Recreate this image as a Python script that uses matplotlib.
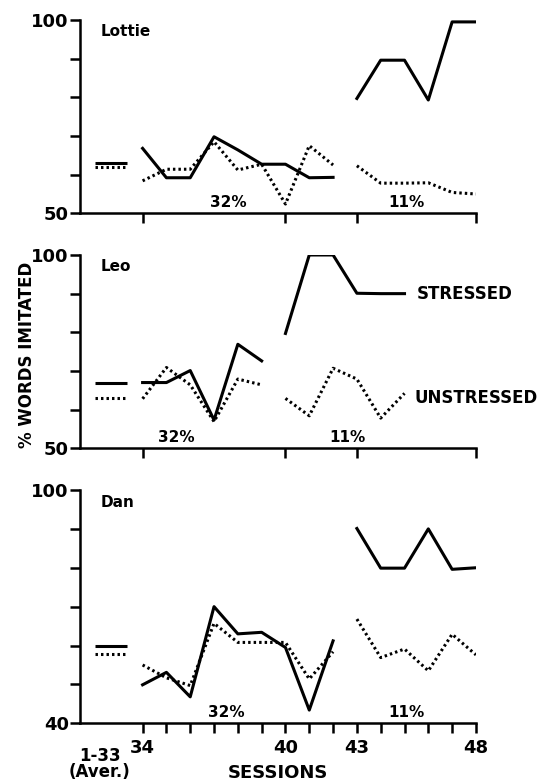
import matplotlib.pyplot as plt

plt.rcParams['font.family'] = ['DejaVu Sans']
plt.rcParams['font.weight'] = 'bold'

# session averages (sessions 1-33)
avg_x = [32.0, 33.35]

# Lottie
lottie_avg = [62.9, 62.0]            # stressed, unstressed
lottie_s1 = list(range(34, 43))
lottie_st1 = [66.8, 59.2, 59.2, 69.8, 66.4, 62.7, 62.7, 59.2, 59.3]
lottie_un1 = [58.4, 61.4, 61.4, 68.5, 61.2, 62.7, 52.4, 67.5, 62.5]
lottie_s2 = list(range(43, 49))
lottie_st2 = [79.7, 89.6, 89.6, 79.3, 99.5, 99.5]
lottie_un2 = [62.3, 57.8, 57.8, 57.9, 55.4, 55.0]

# Leo
leo_avg = [66.8, 62.9]
leo_s1 = list(range(34, 40))
leo_st1 = [67.0, 67.0, 70.1, 57.3, 76.9, 72.6]
leo_un1 = [62.8, 70.9, 66.4, 56.9, 67.9, 66.4]
leo_s2 = list(range(40, 46))
leo_st2 = [79.7, 100, 100, 90.1, 90.0, 90.0]
leo_un2 = [62.9, 58.4, 70.7, 67.9, 57.8, 64.2]

# Dan
dan_avg = [59.9, 57.7]
dan_s1 = list(range(34, 43))
dan_st1 = [49.9, 53.1, 46.8, 70.0, 63.0, 63.4, 59.5, 43.4, 61.2]
dan_un1 = [55.0, 51.7, 49.7, 65.7, 60.8, 60.8, 60.8, 51.4, 58.4]
dan_s2 = list(range(43, 49))
dan_st2 = [90.1, 79.9, 79.9, 90.0, 79.6, 80.0]
dan_un2 = [66.8, 56.9, 59.1, 53.5, 62.9, 57.6]

fig = plt.figure(figsize=(5.39, 7.8), dpi=100)

L, W = 0.1484, 0.7346
ax1 = fig.add_axes([L, 0.7265, W, 0.2479])
ax2 = fig.add_axes([L, 0.4253, W, 0.2478])
ax3 = fig.add_axes([L, 0.0727, W, 0.2991])

dot = (0, (0.8, 1.0))
lw = 2.2

def panel(ax, name, avg, s1, st1, un1, s2, st2, un2, ymin, ph1, ph2):
    ax.plot(avg_x, [avg[0]] * 2, color='black', lw=lw, solid_capstyle='butt')
    ax.plot(avg_x, [avg[1]] * 2, color='black', lw=lw, linestyle=dot)
    ax.plot(s1, st1, color='black', lw=lw)
    ax.plot(s1, un1, color='black', lw=lw, linestyle=dot)
    ax.plot(s2, st2, color='black', lw=lw)
    ax.plot(s2, un2, color='black', lw=lw, linestyle=dot)
    ax.set_xlim(31.37, 48)
    ax.set_ylim(ymin, 100)
    ax.set_yticks(range(ymin, 101, 10))
    ax.set_yticklabels([str(ymin)] + [''] * ((100 - ymin) // 10 - 1) + ['100'])
    for s in ['top', 'right']:
        ax.spines[s].set_visible(False)
    for s in ['left', 'bottom']:
        ax.spines[s].set_linewidth(1.8)
    ax.tick_params(axis='both', width=1.8, length=7, labelsize=13, pad=1)
    ax.tick_params(axis='x', pad=4)
    ax.text(32.25, 100 - (100 - ymin) * 0.02, name, fontsize=11, fontweight='bold',
            va='top', ha='left')
    ax.text(ph1, ymin + (100 - ymin) * 0.015, '32%', fontsize=11, fontweight='bold',
            ha='center', va='bottom')
    ax.text(ph2, ymin + (100 - ymin) * 0.015, '11%', fontsize=11, fontweight='bold',
            ha='center', va='bottom')

panel(ax1, 'Lottie', lottie_avg, lottie_s1, lottie_st1, lottie_un1,
      lottie_s2, lottie_st2, lottie_un2, 50, 37.6, 45.1)
panel(ax2, 'Leo', leo_avg, leo_s1, leo_st1, leo_un1,
      leo_s2, leo_st2, leo_un2, 50, 35.4, 42.6)
panel(ax3, 'Dan', dan_avg, dan_s1, dan_st1, dan_un1,
      dan_s2, dan_st2, dan_un2, 40, 37.5, 45.1)

for ax in (ax1, ax2):
    ax.set_xticks([34, 40, 43, 48])
    ax.set_xticklabels([])

ax3.set_xticks(range(34, 49))
ax3.set_xticklabels(['34', '', '', '', '', '', '40', '', '', '43', '', '', '', '', '48'])
ax3.text(32.2, 33.9, '1-33\n(Aver.)', fontsize=12, fontweight='bold',
         ha='center', va='top', linespacing=0.85, clip_on=False)
ax3.set_xlabel('SESSIONS', fontsize=13, fontweight='bold', labelpad=5)

ax2.text(45.5, 90, 'STRESSED', fontsize=12, fontweight='bold', va='center',
         ha='left', clip_on=False)
ax2.text(45.4, 63, 'UNSTRESSED', fontsize=12, fontweight='bold', va='center',
         ha='left', clip_on=False)

fig.text(0.05, 0.545, '% WORDS IMITATED', rotation=90, fontsize=12,
         fontweight='bold', ha='center', va='center')

fig.savefig('out.png', dpi=100)
